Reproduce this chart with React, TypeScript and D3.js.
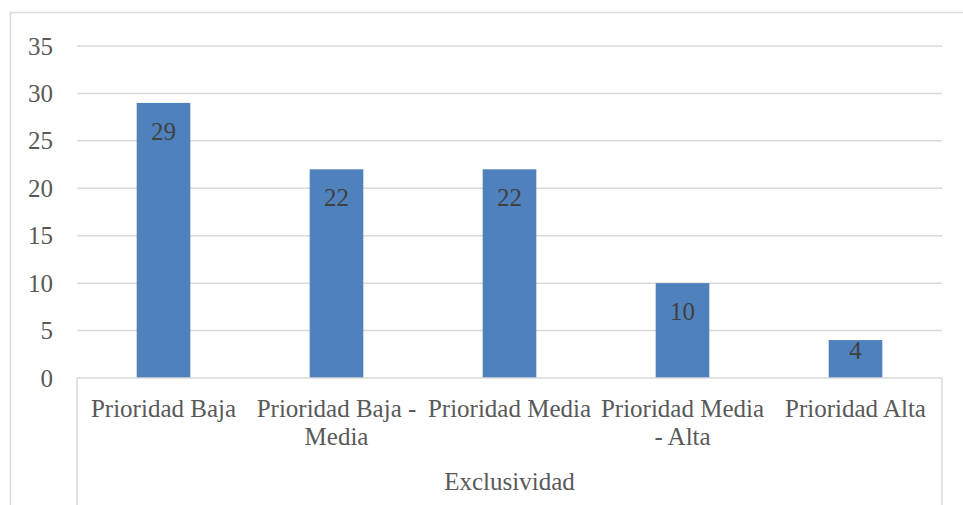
import React, { useEffect, useRef } from "react";
import * as d3 from "d3";

// chart data
const categories = ["Prioridad Baja", "Prioridad Baja - Media", "Prioridad Media", "Prioridad Media - Alta", "Prioridad Alta"];
const values = [29, 22, 22, 10, 4];
const groupLabel = "Exclusividad";
const yTicks = [0, 5, 10, 15, 20, 25, 30, 35];

const FONT = "'Liberation Serif', 'Times New Roman', serif";

export default function App() {
	const svgRef = useRef<SVGSVGElement | null>(null);

	useEffect(() => {
		if (!svgRef.current) return;
		const width = 963;
		const height = 505;
		const plot = { left: 77, right: 942, top: 46, bottom: 378 };

		const svg = d3.select(svgRef.current);
		svg.selectAll("*").remove();

		// outer chart border (runs past the picture on the right and bottom)
		svg
			.append("rect")
			.attr("x", 10.5)
			.attr("y", 12.5)
			.attr("width", width + 20)
			.attr("height", height + 20)
			.attr("fill", "white")
			.attr("stroke", "#d9d9d9")
			.attr("stroke-width", 1.5);

		const x = d3.scaleBand<string>().domain(categories).range([plot.left, plot.right]).paddingInner(0.69).paddingOuter(0.345);
		const y = d3.scaleLinear().domain([0, 35]).range([plot.bottom, plot.top]);

		// gridlines
		svg
			.append("g")
			.selectAll("line")
			.data(yTicks.filter((t) => t > 0))
			.enter()
			.append("line")
			.attr("x1", plot.left)
			.attr("x2", plot.right)
			.attr("y1", (d) => y(d))
			.attr("y2", (d) => y(d))
			.attr("stroke", "#d9d9d9")
			.attr("stroke-width", 1.5);

		// y tick labels
		svg
			.append("g")
			.selectAll("text")
			.data(yTicks)
			.enter()
			.append("text")
			.attr("x", 53)
			.attr("y", (d) => y(d))
			.attr("dy", "0.34em")
			.attr("text-anchor", "end")
			.attr("fill", "#595959")
			.style("font", `25px ${FONT}`)
			.text((d) => d);

		// bars
		svg
			.append("g")
			.selectAll("rect")
			.data(values)
			.enter()
			.append("rect")
			.attr("x", (d, i) => x(categories[i])!)
			.attr("y", (d) => y(d))
			.attr("width", x.bandwidth())
			.attr("height", (d) => y(0) - y(d))
			.attr("fill", "#4f81bd");

		// data labels inside end
		svg
			.append("g")
			.selectAll("text")
			.data(values)
			.enter()
			.append("text")
			.attr("x", (d, i) => x(categories[i])! + x.bandwidth() / 2)
			.attr("y", (d) => y(d) + Math.min(37, (y(0) - y(d)) / 2))
			.attr("text-anchor", "middle")
			.attr("fill", "#404040")
			.style("font", `25px ${FONT}`)
			.text((d) => d);

		// category axis box
		const axis = svg.append("g").attr("stroke", "#d9d9d9").attr("stroke-width", 1.5);
		axis.append("line").attr("x1", plot.left).attr("x2", plot.right).attr("y1", plot.bottom).attr("y2", plot.bottom);
		axis.append("line").attr("x1", plot.left).attr("x2", plot.left).attr("y1", plot.bottom).attr("y2", height + 10);
		axis.append("line").attr("x1", plot.right).attr("x2", plot.right).attr("y1", plot.bottom).attr("y2", height + 10);

		// category labels, wrapped to the band step
		const step = x.step();
		const labels = svg
			.append("g")
			.selectAll("text")
			.data(categories)
			.enter()
			.append("text")
			.attr("text-anchor", "middle")
			.attr("fill", "#595959")
			.style("font", `25px ${FONT}`);

		labels.each(function (d) {
			const el = d3.select(this);
			const cx = x(d)! + x.bandwidth() / 2;
			const words = d.split(" ");
			const lines: string[] = [];
			let cur: string[] = [];
			const probe = el.append("tspan");
			for (const w of words) {
				const test = [...cur, w].join(" ");
				probe.text(test);
				if (cur.length && (probe.node() as SVGTSpanElement).getComputedTextLength() > step - 4) {
					lines.push(cur.join(" "));
					cur = [w];
				} else cur.push(w);
			}
			lines.push(cur.join(" "));
			probe.remove();
			lines.forEach((ln, i) => {
				el.append("tspan").attr("x", cx).attr("y", 417 + i * 27.5).text(ln);
			});
		});

		// group label
		svg
			.append("text")
			.attr("x", (plot.left + plot.right) / 2)
			.attr("y", 490)
			.attr("text-anchor", "middle")
			.attr("fill", "#595959")
			.style("font", `25px ${FONT}`)
			.text(groupLabel);
	}, []);

	return (
		<svg
			ref={svgRef}
			width={963}
			height={505}
			style={{ position: "absolute", left: 0, top: 0, display: "block", background: "white" }}
		/>
	);
}
